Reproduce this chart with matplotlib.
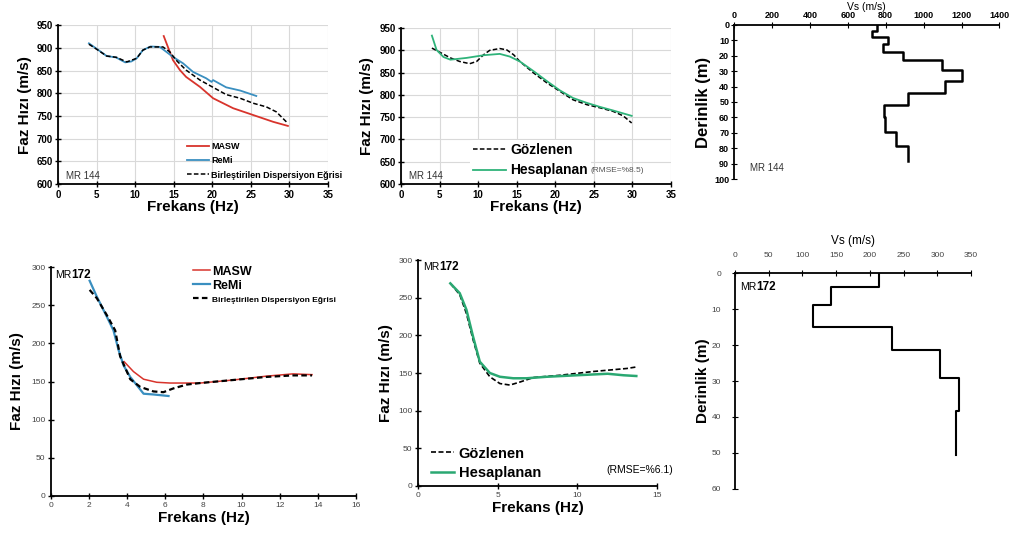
import numpy as np
import matplotlib
matplotlib.use("Agg")
import matplotlib.pyplot as plt

plt.rcParams['font.family'] = ['Liberation Sans', 'DejaVu Sans']

# ---- MR 144 : dispersion curves ----
masw144_f = [13.7, 14.9, 15.8, 16.6, 18.4, 20.1, 22.7, 25.3, 27.9, 29.8]
masw144_v = [926, 873, 851, 836, 814, 789, 767, 752, 737, 728]
remi144_f = [4.0, 5.0, 6.3, 7.5, 8.7, 9.5, 10.2, 11.0, 12.0, 13.2, 14.9, 16.2, 17.5, 19.2, 19.9, 20.1, 21.8, 23.6, 25.7]
remi144_v = [910, 898, 882, 879, 868, 870, 877, 895, 903, 902, 880, 866, 847, 833, 825, 829, 813, 806, 794]
comb144_f = [4.0, 5.0, 6.3, 7.6, 8.9, 10.2, 11.0, 11.9, 13.6, 14.5, 15.3, 16.6, 18.4, 20.1, 21.8, 23.6, 25.3, 27.0, 28.3, 29.6]
comb144_v = [908, 897, 882, 879, 869, 877, 895, 902, 902, 891, 873, 851, 829, 813, 797, 789, 778, 770, 759, 737]

obs144_f = [4.0, 5.1, 6.4, 7.6, 8.9, 9.8, 10.7, 11.5, 12.8, 13.7, 14.6, 15.4, 17.2, 18.9, 20.6, 22.3, 24.1, 25.8, 27.5, 28.8, 29.9]
obs144_v = [905, 895, 883, 875, 870, 875, 890, 900, 904, 901, 890, 875, 849, 827, 808, 789, 778, 771, 763, 753, 737]
calc144_f = [4.0, 4.6, 5.5, 6.4, 8.5, 10.7, 12.8, 14.1, 15.4, 17.2, 18.9, 20.6, 22.3, 24.1, 25.8, 27.5, 29.9]
calc144_v = [933, 901, 885, 879, 883, 889, 892, 886, 875, 853, 831, 810, 793, 782, 773, 765, 753]

# ---- MR 144 : Vs profile ----
vs144 = [755, 728, 810, 785, 893, 1098, 1200, 1115, 920, 790, 795, 855, 920]
dep144 = [0, 3.7, 7.5, 12.5, 17.5, 23, 29.5, 36.5, 44, 52, 60, 69.5, 78.5, 88.5]

# ---- MR 172 : dispersion curves ----
remi172_f = [2.03, 2.41, 2.93, 3.28, 3.55, 3.81, 4.16, 4.51, 4.86, 5.38, 6.17]
remi172_v = [282, 261, 235, 217, 191, 171, 156, 145, 134, 133, 131]
masw172_f = [3.84, 4.33, 4.86, 5.55, 6.25, 7.13, 7.83, 9.57, 11.3, 12.7, 13.7]
masw172_v = [176, 163, 153, 149, 148, 148, 148, 152, 157, 160, 159]
comb172_f = [2.03, 2.41, 2.93, 3.37, 3.63, 4.16, 4.68, 5.38, 5.90, 6.43, 7.13, 7.83, 9.57, 11.3, 12.7, 13.7]
comb172_v = [270, 259, 237, 217, 183, 153, 143, 137, 136, 141, 146, 148, 152, 156, 158, 158]

obs172_f = [2.03, 2.62, 3.04, 3.46, 3.88, 4.51, 5.14, 5.77, 6.4, 7.24, 8.92, 11.0, 13.1, 13.7]
obs172_v = [269, 254, 229, 194, 163, 145, 136, 134, 138, 144, 147, 152, 156, 158]
calc172_f = [2.03, 2.62, 3.04, 3.46, 3.88, 4.51, 5.14, 5.98, 6.82, 8.08, 9.97, 11.9, 12.9, 13.7]
calc172_v = [269, 256, 234, 198, 165, 150, 145, 143, 143, 145, 147, 149, 147, 146]

# ---- MR 172 : Vs profile ----
vs172 = [214, 143, 116, 233, 304, 332, 328]
dep172 = [0, 4, 9, 15, 21.5, 29.3, 38.3, 50.5]

RED = '#d8342c'
BLUE = '#3a8fc0'
GREEN = '#2fb37a'


def step_xy(vs, dep):
    d = np.asarray(dep, float)
    y = np.column_stack([d[:-1], d[1:]]).ravel()
    x = np.repeat(vs, 2)
    return x, y


def style_excel(ax, grid=True):
    for s in ['top', 'right']:
        ax.spines[s].set_visible(False)
    for s in ['left', 'bottom']:
        ax.spines[s].set_color('black')
        ax.spines[s].set_linewidth(1.3)
    ax.tick_params(direction='inout', length=4, width=1, labelsize=7, pad=2)
    if grid:
        ax.grid(True, color='#d9d9d9', lw=0.8)
        ax.set_axisbelow(True)


def mr_label(ax, x, y, num):
    # "MR" normal, number bold, placed right after it
    ax.text(x, y, 'MR', fontsize=7.5, va='center')
    ax.annotate(num, (x, y), xytext=(12, 0), textcoords='offset points',
                fontsize=8.5, fontweight='bold', va='center')


fig = plt.figure(figsize=(10.13, 5.35), dpi=100)

# Panel 1
ax1 = fig.add_axes([0.0573, 0.656, 0.2665, 0.297])
ax1.plot(masw144_f, masw144_v, color=RED, lw=1.3, label='MASW')
ax1.plot(remi144_f, remi144_v, color=BLUE, lw=1.3, label='ReMi')
ax1.plot(comb144_f, comb144_v, color='black', lw=1.1, ls=(0, (3, 1.5)), label='Birleştirilen Dispersiyon Eğrisi')
ax1.set_xlim(0, 35)
ax1.set_ylim(600, 950)
ax1.set_xticks(range(0, 36, 5))
ax1.set_yticks(range(600, 951, 50))
style_excel(ax1)
for lab in ax1.get_xticklabels() + ax1.get_yticklabels():
    lab.set_fontweight('bold')
ax1.set_xlabel('Frekans (Hz)', fontsize=11, fontweight='bold', labelpad=0)
ax1.set_ylabel('Faz Hızı (m/s)', fontsize=11, fontweight='bold', labelpad=3)
leg = ax1.legend(loc='lower right', bbox_to_anchor=(1.07, 0.0), frameon=False, fontsize=6.5,
                 handlelength=2.4, borderaxespad=0.1, labelspacing=0.6, handletextpad=0.3)
for t in leg.get_texts():
    t.set_fontweight('bold')
ax1.text(1, 612, 'MR 144', fontsize=7, color='#333333')

# Panel 2
ax2 = fig.add_axes([0.3959, 0.656, 0.2665, 0.2916])
ax2.plot(obs144_f, obs144_v, color='black', lw=1.1, ls=(0, (3, 1.5)), label='Gözlenen')
ax2.plot(calc144_f, calc144_v, color=GREEN, lw=1.3, label='Hesaplanan')
ax2.set_xlim(0, 35)
ax2.set_ylim(600, 950)
ax2.set_xticks(range(0, 36, 5))
ax2.set_yticks(range(600, 951, 50))
style_excel(ax2)
for lab in ax2.get_xticklabels() + ax2.get_yticklabels():
    lab.set_fontweight('bold')
ax2.set_xlabel('Frekans (Hz)', fontsize=11, fontweight='bold', labelpad=0)
ax2.set_ylabel('Faz Hızı (m/s)', fontsize=11, fontweight='bold', labelpad=4)
leg = ax2.legend(loc='lower left', bbox_to_anchor=(0.23, -0.02), frameon=True, fontsize=10,
                 handlelength=2.4, labelspacing=0.45, handletextpad=0.3, borderpad=0.2)
leg.get_frame().set_edgecolor('none')
leg.get_frame().set_alpha(1)
for t in leg.get_texts():
    t.set_fontweight('bold')
ax2.text(0.70, 0.085, '(RMSE=%8.5)', transform=ax2.transAxes, fontsize=6, color='#555555',
         va='center', zorder=10)
ax2.text(1, 612, 'MR 144', fontsize=7, color='#333333')

# Panel 3
ax3 = fig.add_axes([0.7246, 0.6654, 0.262, 0.2879])
x, y = step_xy(vs144, dep144)
ax3.plot(x, y, color='black', lw=1.8)
ax3.set_xlim(0, 1400)
ax3.set_ylim(100, 0)
ax3.set_xticks(range(0, 1401, 200))
ax3.set_yticks(range(0, 101, 10))
ax3.xaxis.tick_top()
ax3.xaxis.set_label_position('top')
for s in ['bottom', 'right']:
    ax3.spines[s].set_visible(False)
for s in ['left', 'top']:
    ax3.spines[s].set_linewidth(1.3)
ax3.tick_params(direction='inout', length=4, labelsize=6.5, pad=1.5)
for lab in ax3.get_xticklabels() + ax3.get_yticklabels():
    lab.set_fontweight('bold')
ax3.set_xlabel('Vs (m/s)', fontsize=7.5, labelpad=1)
ax3.set_ylabel('Derinlik (m)', fontsize=12, fontweight='bold', labelpad=2)
ax3.text(82, 93, 'MR 144', fontsize=7, color='#333333', va='center')

# Panel 4
ax4 = fig.add_axes([0.0503, 0.0729, 0.301, 0.428])
ax4.plot(masw172_f, masw172_v, color=RED, lw=1.1, label='MASW')
ax4.plot(remi172_f, remi172_v, color=BLUE, lw=1.6, label='ReMi')
ax4.plot(comb172_f, comb172_v, color='black', lw=1.6, ls=(0, (2.5, 1.5)), label='Birleştirilen Dispersiyon Eğrisi')
ax4.set_xlim(0, 16)
ax4.set_ylim(0, 300)
ax4.set_xticks(range(0, 17, 2))
ax4.set_yticks(range(0, 301, 50))
style_excel(ax4, grid=False)
ax4.tick_params(labelsize=6, labelcolor='#444444')
ax4.set_xlabel('Frekans (Hz)', fontsize=11, fontweight='bold', labelpad=2)
ax4.set_ylabel('Faz Hızı (m/s)', fontsize=11, fontweight='bold', labelpad=5)
leg = ax4.legend(loc='upper left', bbox_to_anchor=(0.43, 1.055), frameon=False, fontsize=9,
                 handlelength=1.3, labelspacing=0.15, handletextpad=0.2)
for t, fs in zip(leg.get_texts(), [9, 9, 6]):
    t.set_fontweight('bold')
    t.set_fontsize(fs)
mr_label(ax4, 0.2, 290, '172')

# Panel 5
ax5 = fig.add_axes([0.4126, 0.0916, 0.236, 0.4224])
ax5.plot(obs172_f, obs172_v, color='black', lw=1.2, ls=(0, (3, 1.5)), label='Gözlenen')
ax5.plot(calc172_f, calc172_v, color='#2aa872', lw=1.8, label='Hesaplanan')
ax5.set_xlim(0, 15)
ax5.set_ylim(0, 300)
ax5.set_xticks(range(0, 16, 5))
ax5.set_yticks(range(0, 301, 50))
style_excel(ax5, grid=False)
ax5.tick_params(labelsize=6, labelcolor='#444444')
ax5.set_xlabel('Frekans (Hz)', fontsize=11, fontweight='bold', labelpad=2)
ax5.set_ylabel('Faz Hızı (m/s)', fontsize=11, fontweight='bold', labelpad=4)
leg = ax5.legend(loc='lower left', bbox_to_anchor=(0.0, -0.03), frameon=False, fontsize=10.5,
                 handlelength=1.6, labelspacing=0.35, handletextpad=0.3)
for t in leg.get_texts():
    t.set_fontweight('bold')
ax5.text(0.79, 0.07, '(RMSE=%6.1)', transform=ax5.transAxes, fontsize=7.5, va='center')
mr_label(ax5, 0.3, 291, '172')

# Panel 6
ax6 = fig.add_axes([0.7256, 0.086, 0.233, 0.4037])
x, y = step_xy(vs172, dep172)
ax6.plot(x, y, color='black', lw=1.5)
ax6.set_xlim(0, 350)
ax6.set_ylim(60, 0)
ax6.set_xticks(range(0, 351, 50))
ax6.set_yticks(range(0, 61, 10))
ax6.xaxis.tick_top()
ax6.xaxis.set_label_position('top')
for s in ['bottom', 'right']:
    ax6.spines[s].set_visible(False)
for s in ['left', 'top']:
    ax6.spines[s].set_linewidth(1.3)
ax6.tick_params(direction='inout', length=4, labelsize=6, labelcolor='#444444', pad=8)
ax6.set_xlabel('Vs (m/s)', fontsize=8.5, labelpad=6)
ax6.set_ylabel('Derinlik (m)', fontsize=11, fontweight='bold', labelpad=1)
mr_label(ax6, 7, 4, '172')

fig.savefig('out.png', dpi=100, facecolor='white')
